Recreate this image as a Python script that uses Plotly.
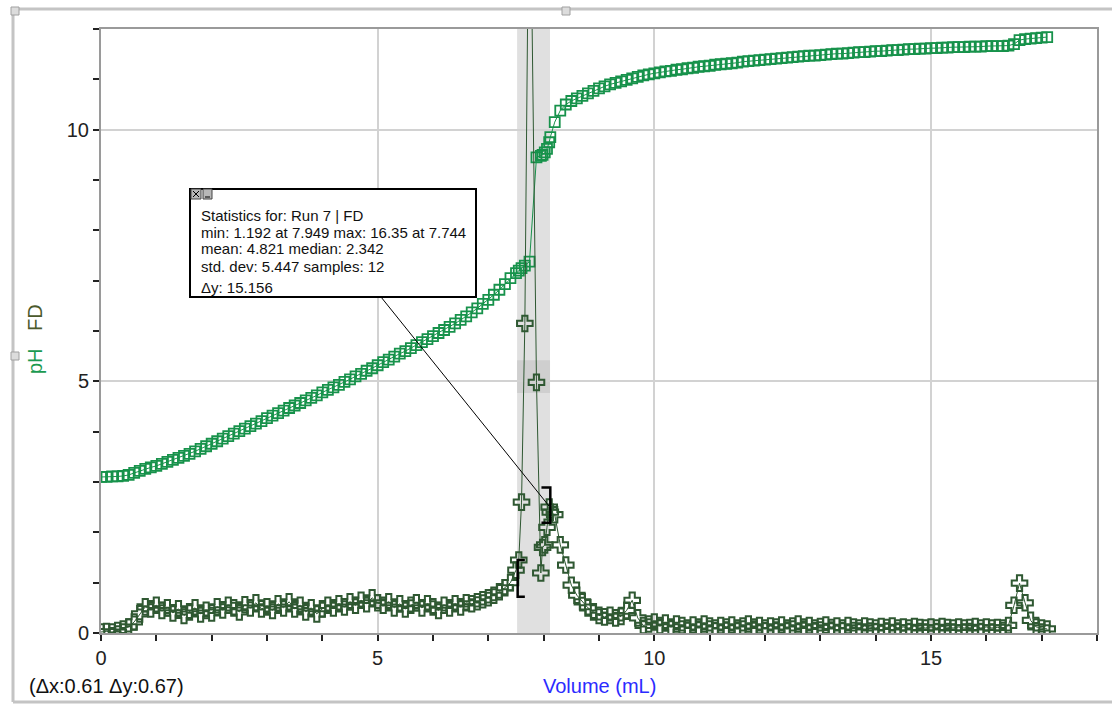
import plotly.graph_objects as go

# ---------------- data ----------------
volume = [
    0.0, 0.1, 0.2, 0.3, 0.4, 0.5, 0.6, 0.7, 0.8, 0.9,
    1.0, 1.1, 1.2, 1.3, 1.4, 1.5, 1.6, 1.7, 1.8, 1.9,
    2.0, 2.1, 2.2, 2.3, 2.4, 2.5, 2.6, 2.7, 2.8, 2.9,
    3.0, 3.1, 3.2, 3.3, 3.4, 3.5, 3.6, 3.7, 3.8, 3.9,
    4.0, 4.1, 4.2, 4.3, 4.4, 4.5, 4.6, 4.7, 4.8, 4.9,
    5.0, 5.1, 5.2, 5.3, 5.4, 5.5, 5.6, 5.7, 5.8, 5.9,
    6.0, 6.1, 6.2, 6.3, 6.4, 6.5, 6.6, 6.7, 6.8, 6.9,
    7.0, 7.1, 7.2, 7.3, 7.4,
    7.5, 7.55, 7.6, 7.66, 7.744, 7.87, 7.949, 7.98, 8.02, 8.06, 8.1, 8.12,
    8.2, 8.3, 8.4, 8.5, 8.6, 8.7, 8.8, 8.9, 9.0, 9.1,
    9.2, 9.3, 9.4, 9.5, 9.6, 9.7, 9.8, 9.9, 10.0, 10.1,
    10.2, 10.3, 10.4, 10.5, 10.6, 10.7, 10.8, 10.9, 11.0, 11.1,
    11.2, 11.3, 11.4, 11.5, 11.6, 11.7, 11.8, 11.9, 12.0, 12.1,
    12.2, 12.3, 12.4, 12.5, 12.6, 12.7, 12.8, 12.9, 13.0, 13.1,
    13.2, 13.3, 13.4, 13.5, 13.6, 13.7, 13.8, 13.9, 14.0, 14.1,
    14.2, 14.3, 14.4, 14.5, 14.6, 14.7, 14.8, 14.9, 15.0, 15.1,
    15.2, 15.3, 15.4, 15.5, 15.6, 15.7, 15.8, 15.9, 16.0, 16.1,
    16.2, 16.3, 16.4, 16.5, 16.6, 16.7, 16.8, 16.9, 17.0, 17.1,
]

ph = [
    3.10, 3.10, 3.11, 3.11, 3.12, 3.14, 3.18, 3.22, 3.26, 3.29,
    3.32, 3.36, 3.40, 3.44, 3.48, 3.52, 3.56, 3.61, 3.66, 3.71,
    3.76, 3.81, 3.86, 3.91, 3.96, 4.01, 4.06, 4.11, 4.16, 4.21,
    4.27, 4.32, 4.37, 4.42, 4.47, 4.52, 4.57, 4.62, 4.67, 4.72,
    4.78, 4.83, 4.88, 4.93, 4.99, 5.04, 5.10, 5.15, 5.21, 5.26,
    5.32, 5.38, 5.43, 5.49, 5.55, 5.60, 5.66, 5.72, 5.78, 5.84,
    5.90, 5.96, 6.02, 6.08, 6.15, 6.22, 6.29, 6.37, 6.45, 6.54,
    6.62, 6.72, 6.82, 6.93, 7.05,
    7.15, 7.20, 7.25, 7.30, 7.38, 9.45, 9.48, 9.50, 9.55, 9.62, 9.75, 9.85,
    10.15, 10.38, 10.50, 10.57, 10.62, 10.67, 10.72, 10.77, 10.82, 10.86,
    10.90, 10.93, 10.96, 10.99, 11.02, 11.05, 11.08, 11.10, 11.12, 11.14,
    11.16, 11.17, 11.19, 11.20, 11.22, 11.23, 11.25, 11.26, 11.27, 11.29,
    11.30, 11.31, 11.32, 11.33, 11.35, 11.36, 11.37, 11.38, 11.39, 11.40,
    11.41, 11.42, 11.43, 11.44, 11.45, 11.46, 11.47, 11.47, 11.48, 11.49,
    11.50, 11.51, 11.51, 11.52, 11.53, 11.54, 11.54, 11.55, 11.56, 11.56,
    11.57, 11.58, 11.58, 11.59, 11.60, 11.60, 11.61, 11.61, 11.62, 11.62,
    11.63, 11.63, 11.64, 11.64, 11.64, 11.65, 11.65, 11.65, 11.66, 11.66,
    11.66, 11.66, 11.67, 11.70, 11.78, 11.80, 11.81, 11.82, 11.83, 11.84,
]

fd = [
    0.02, 0.03, 0.02, 0.05, 0.08, 0.12, 0.22, 0.38, 0.52, 0.48,
    0.55, 0.45, 0.50, 0.40, 0.48, 0.35, 0.42, 0.50, 0.38, 0.45,
    0.40, 0.52, 0.46, 0.55, 0.50, 0.42, 0.56, 0.50, 0.60, 0.48,
    0.52, 0.45, 0.58, 0.50, 0.62, 0.48, 0.55, 0.42, 0.50, 0.38,
    0.48, 0.55, 0.50, 0.58, 0.52, 0.62, 0.55, 0.65, 0.58, 0.70,
    0.60, 0.55, 0.62, 0.50, 0.58, 0.48, 0.55, 0.60, 0.50, 0.58,
    0.52, 0.45, 0.55, 0.50, 0.58, 0.52, 0.60, 0.58, 0.62, 0.66,
    0.70, 0.75, 0.82, 0.90, 1.00,
    1.25, 1.45, 2.60, 6.15, 16.35, 4.98, 1.192, 1.70, 1.75, 2.10, 2.50, 2.40,
    2.35, 1.75, 1.35, 0.95, 0.75, 0.62, 0.50, 0.42, 0.35, 0.32,
    0.35, 0.30, 0.33, 0.45, 0.65, 0.30, 0.15, 0.18, 0.22, 0.15,
    0.20, 0.12, 0.18, 0.15, 0.10, 0.16, 0.12, 0.18, 0.14, 0.10,
    0.15, 0.12, 0.16, 0.10, 0.14, 0.18, 0.12, 0.15, 0.10, 0.14,
    0.12, 0.16, 0.10, 0.14, 0.18, 0.12, 0.15, 0.10, 0.13, 0.16,
    0.11, 0.14, 0.10, 0.15, 0.12, 0.10, 0.14, 0.12, 0.10, 0.13,
    0.11, 0.14, 0.10, 0.12, 0.10, 0.13, 0.11, 0.10, 0.12, 0.10,
    0.13, 0.11, 0.10, 0.12, 0.10, 0.11, 0.13, 0.10, 0.12, 0.10,
    0.11, 0.10, 0.15, 0.55, 0.99, 0.60, 0.25, 0.12, 0.10, 0.08,
]

x_tick_vals = [0, 5, 10, 15]
y_tick_vals = [0, 5, 10]

stats_lines = [
    "Statistics for: Run 7 | FD",
    "min: 1.192 at 7.949 max: 16.35 at 7.744",
    "mean: 4.821 median: 2.342",
    "std. dev: 5.447 samples: 12",
    "Δy: 15.156",
]

# ---------------- layout helpers (pixel -> paper) ----------------
L, R, T, B = 101, 1097, 29, 633
W, H = R - L, B - T


def px(x):
    return (x - L) / W


def py(y):
    return (B - y) / H


PH_COLOR = "#17924b"
FD_COLOR = "#2f5832"
FONT = "Liberation Sans, Arial, sans-serif"

fig = go.Figure()

fig.add_trace(go.Scatter(
    x=volume, y=ph, mode="lines+markers", name="pH",
    line=dict(color=PH_COLOR, width=1),
    marker=dict(symbol="square-open", size=10, color=PH_COLOR,
                line=dict(width=1.8, color=PH_COLOR)),
))
fig.add_trace(go.Scatter(
    x=volume, y=fd, mode="lines+markers", name="FD",
    line=dict(color=FD_COLOR, width=1),
    marker=dict(symbol="cross-open", size=13, color=FD_COLOR,
                line=dict(width=2, color=FD_COLOR)),
))

shapes = []
# selection band
shapes.append(dict(type="rect", xref="x", yref="paper", x0=7.52, x1=8.115, y0=0, y1=1,
                   fillcolor="#e0e0e0", line=dict(width=0), layer="below"))
shapes.append(dict(type="rect", xref="x", yref="y", x0=7.52, x1=8.115, y0=4.77, y1=5.42,
                   fillcolor="#cfcfcf", line=dict(width=0), layer="below"))
# brackets
shapes.append(dict(type="path", xref="x", yref="y",
                   path="M 7.66,1.45 L 7.53,1.45 L 7.53,0.72 L 7.66,0.72",
                   line=dict(color="black", width=2.5)))
shapes.append(dict(type="path", xref="x", yref="y",
                   path="M 7.96,2.89 L 8.12,2.89 L 8.12,2.19 L 7.96,2.19",
                   line=dict(color="black", width=2.5)))
# connector line from stats box
shapes.append(dict(type="line", xref="paper", yref="paper",
                   x0=px(381), y0=py(297), x1=px(549), y1=py(506),
                   line=dict(color="black", width=1)))
# stats box
shapes.append(dict(type="rect", xref="paper", yref="paper",
                   x0=px(190), x1=px(476), y0=py(189), y1=py(297),
                   fillcolor="white", line=dict(color="black", width=2)))
# icons on box
shapes.append(dict(type="rect", xref="paper", yref="paper",
                   x0=px(191), x1=px(201), y0=py(189), y1=py(199),
                   fillcolor="#b8b8b8", line=dict(color="#444", width=1)))
shapes.append(dict(type="rect", xref="paper", yref="paper",
                   x0=px(203), x1=px(212), y0=py(189), y1=py(199),
                   fillcolor="#b8b8b8", line=dict(color="#444", width=1)))
shapes.append(dict(type="line", xref="paper", yref="paper",
                   x0=px(193), y0=py(191), x1=px(199), y1=py(197),
                   line=dict(color="black", width=1)))
shapes.append(dict(type="line", xref="paper", yref="paper",
                   x0=px(193), y0=py(197), x1=px(199), y1=py(191),
                   line=dict(color="black", width=1)))
shapes.append(dict(type="line", xref="paper", yref="paper",
                   x0=px(205), y0=py(197), x1=px(210), y1=py(197),
                   line=dict(color="black", width=1)))
# outer frame of the graph window
frame_col = "#c4c4c4"
shapes.append(dict(type="line", xref="paper", yref="paper",
                   x0=px(13), y0=py(9), x1=px(1112), y1=py(9),
                   line=dict(color=frame_col, width=3)))
shapes.append(dict(type="line", xref="paper", yref="paper",
                   x0=px(13), y0=py(9), x1=px(13), y1=py(702),
                   line=dict(color=frame_col, width=3)))
shapes.append(dict(type="line", xref="paper", yref="paper",
                   x0=px(13), y0=py(702), x1=px(1112), y1=py(702),
                   line=dict(color=frame_col, width=3)))
for (hx, hy) in [(15, 11), (566, 11), (15, 356)]:
    shapes.append(dict(type="rect", xref="paper", yref="paper",
                       x0=px(hx - 4), x1=px(hx + 4), y0=py(hy - 4), y1=py(hy + 4),
                       fillcolor="#dcdcdc", line=dict(color="#a0a0a0", width=1)))

annotations = []
ys = [215, 232, 249, 266, 287]
for txt, yy in zip(stats_lines, ys):
    annotations.append(dict(text=txt, xref="paper", yref="paper", x=px(199), y=py(yy),
                            xanchor="left", yanchor="middle", showarrow=False,
                            font=dict(family=FONT, size=15, color="#111")))
annotations.append(dict(text="FD", xref="paper", yref="paper", x=px(35), y=py(318),
                        xanchor="center", yanchor="middle", textangle=-90, showarrow=False,
                        font=dict(family=FONT, size=20, color="#4b5a2c")))
annotations.append(dict(text="pH", xref="paper", yref="paper", x=px(35), y=py(361),
                        xanchor="center", yanchor="middle", textangle=-90, showarrow=False,
                        font=dict(family=FONT, size=20, color="#1a9a50")))
annotations.append(dict(text="Volume (mL)", xref="paper", yref="paper", x=px(599), y=py(686),
                        xanchor="center", yanchor="middle", showarrow=False,
                        font=dict(family=FONT, size=20, color="#2b2bff")))
annotations.append(dict(text="(Δx:0.61 Δy:0.67)", xref="paper", yref="paper", x=px(27), y=py(686),
                        xanchor="left", yanchor="middle", showarrow=False,
                        font=dict(family=FONT, size=20, color="#111")))

fig.update_layout(
    width=1112, height=704,
    margin=dict(l=L, r=1112 - R, t=T, b=704 - B),
    paper_bgcolor="white", plot_bgcolor="white",
    showlegend=False,
    font=dict(family=FONT, size=20, color="#222"),
    shapes=shapes, annotations=annotations,
    xaxis=dict(range=[0, 18], tickvals=x_tick_vals, showgrid=True, gridcolor="#d2d2d2", gridwidth=1.5,
               showline=True, linecolor="#9a9a9a", linewidth=2, mirror=True,
               ticks="outside", ticklen=6, tickcolor="#222", tickwidth=1.5,
               minor=dict(dtick=1, ticks="outside", ticklen=6, tickcolor="#222", tickwidth=1.5, showgrid=False),
               zeroline=False, tickfont=dict(size=20, color="#222")),
    yaxis=dict(range=[0, 12], tickvals=y_tick_vals, showgrid=True, gridcolor="#d2d2d2", gridwidth=1.5,
               showline=True, linecolor="#9a9a9a", linewidth=2, mirror=True,
               ticks="outside", ticklen=6, tickcolor="#222", tickwidth=1.5,
               minor=dict(dtick=1, ticks="outside", ticklen=6, tickcolor="#222", tickwidth=1.5, showgrid=False),
               zeroline=False, tickfont=dict(size=20, color="#222")),
)

fig.write_html("out.html")
